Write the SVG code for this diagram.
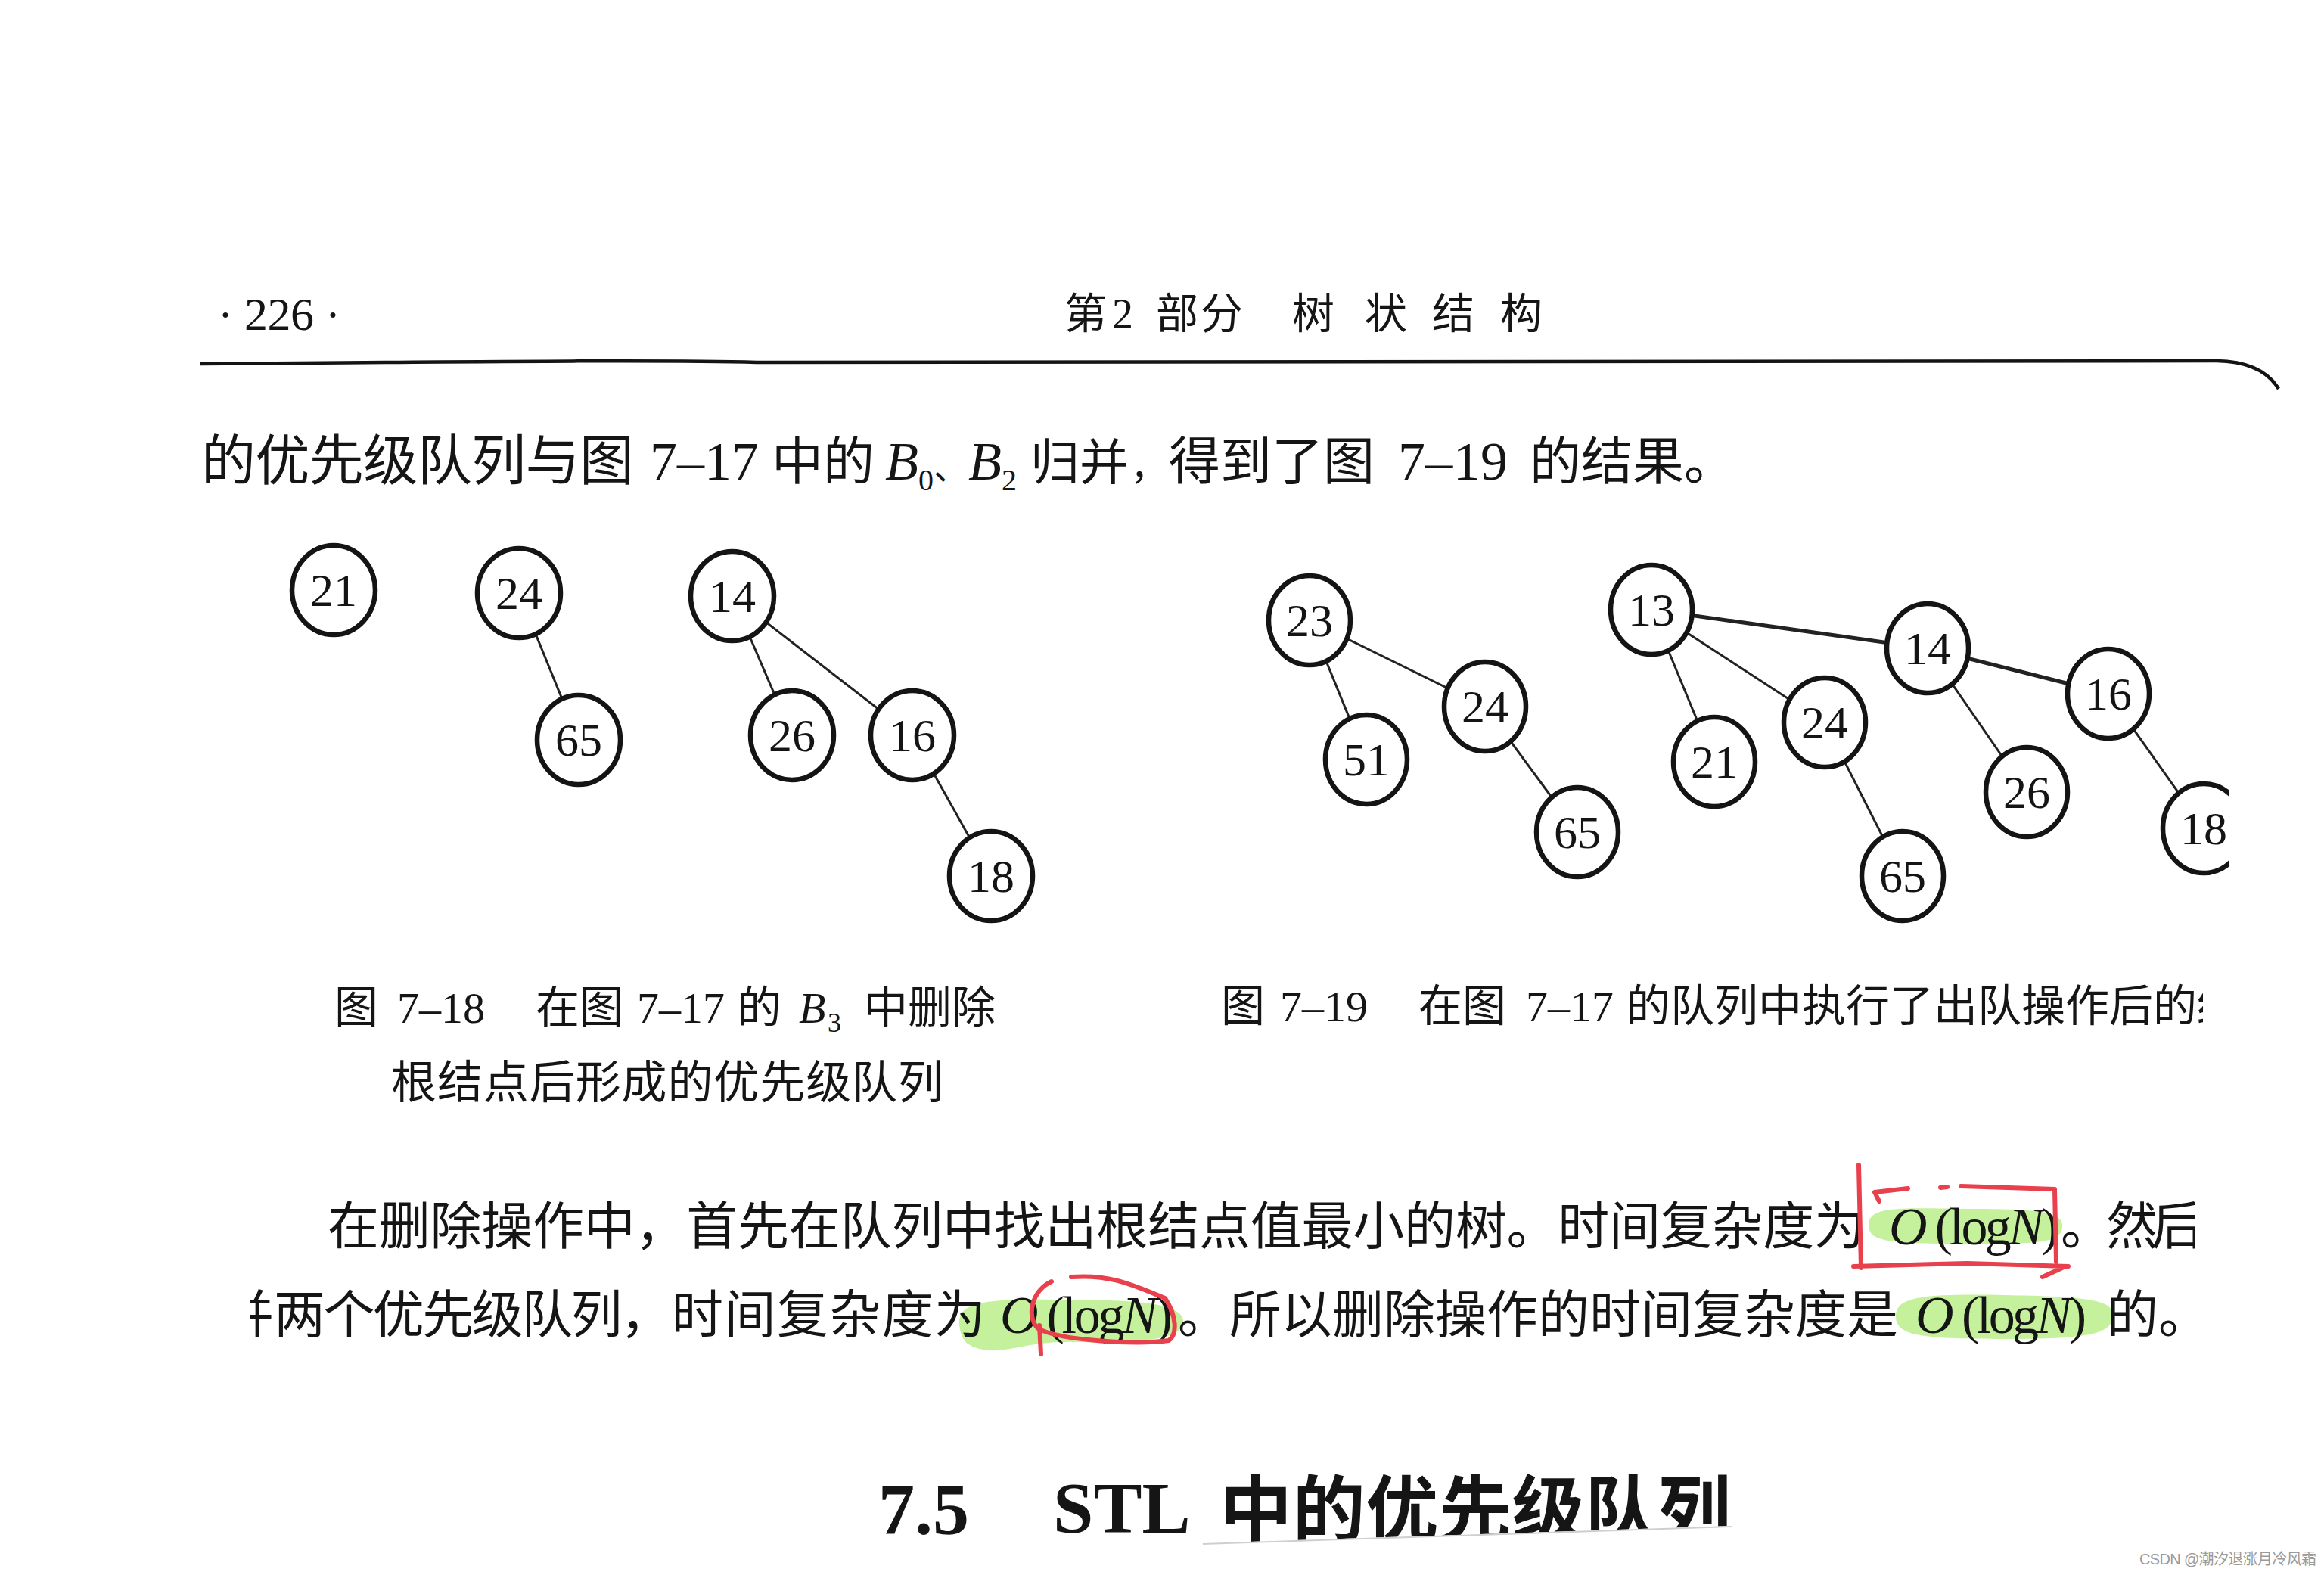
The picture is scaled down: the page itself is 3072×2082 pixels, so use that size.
<svg xmlns="http://www.w3.org/2000/svg" width="3072" height="2082" viewBox="0 0 3072 2082">
<style>
.cjk{font-family:"Noto Sans CJK SC","Noto Sans",sans-serif;fill:#151515}
.ser{font-family:"Liberation Serif","Noto Sans CJK SC",serif;fill:#151515}
.it{font-style:italic}
.node ellipse{fill:#fff;stroke:#141414;stroke-width:6.5}
.node text{font-family:"Liberation Serif",serif;font-size:62px;text-anchor:middle;fill:#141414}
.edge{stroke:#222;stroke-width:3;fill:none}
.thick{stroke-width:5}
.hl{fill:#9fe85a;opacity:0.6}
.red{fill:none;stroke:#e8404c;stroke-width:6;stroke-linecap:round;stroke-linejoin:round}
</style>
<defs>
<clipPath id="clipR"><rect x="0" y="0" width="2946" height="2082"/></clipPath>
<clipPath id="clipCap"><rect x="0" y="0" width="2912" height="2082"/></clipPath>
<clipPath id="clipL1"><rect x="0" y="0" width="2902" height="2082"/></clipPath>
<clipPath id="clipL2"><rect x="330" y="0" width="2742" height="2082"/></clipPath>
<clipPath id="clipHead"><polygon points="0,0 3072,0 3072,2016 2290,2017 1590,2040 0,2040"/></clipPath>
</defs>
<rect x="0" y="0" width="3072" height="2082" fill="#fff"/>

<!-- page header -->
<g id="header">
<text class="ser" x="288" y="436" font-size="60">·</text>
<text class="ser" x="323" y="436" font-size="62" textLength="92">226</text>
<text class="ser" x="430" y="436" font-size="60">·</text>
<text class="cjk" x="1407" y="434" font-size="56">第</text>
<text class="ser" x="1470" y="434" font-size="56">2</text>
<text class="cjk" x="1528" y="434" font-size="56" textLength="115">部分</text>
<text class="cjk" x="1708" y="434" font-size="56">树</text>
<text class="cjk" x="1804" y="434" font-size="56">状</text>
<text class="cjk" x="1893" y="434" font-size="56">结</text>
<text class="cjk" x="1983" y="434" font-size="56">构</text>
<path d="M264 481 C700 477 900 476 1000 479 C1500 478 2200 479 2930 477 Q2990 478 3012 514" fill="none" stroke="#141414" stroke-width="4.5"/>
</g>

<!-- intro line -->
<g id="intro">
<text class="cjk" x="266" y="634" font-size="72" textLength="572">的优先级队列与图</text>
<text class="ser" x="859" y="634" font-size="72">7–17</text>
<text class="cjk" x="1020" y="634" font-size="68" textLength="136">中的</text>
<text class="ser" x="1170" y="634" font-size="72"><tspan class="it">B</tspan><tspan font-size="40" dy="14">0</tspan><tspan font-size="46" dy="-14">、</tspan><tspan class="it">B</tspan><tspan font-size="40" dy="14">2</tspan></text>
<text class="cjk" x="1362" y="634" font-size="65" textLength="130">归并</text>
<text class="cjk" x="1494" y="634" font-size="50">，</text>
<text class="cjk" x="1545" y="634" font-size="68" textLength="272">得到了图</text>
<text class="ser" x="1848" y="634" font-size="72" textLength="145">7–19</text>
<text class="cjk" x="2022" y="634" font-size="68">的结果。</text>
</g>

<!-- connectors -->
<g id="connectors">
<line class="edge" x1="686" y1="784" x2="765" y2="978"/>
<line class="edge" x1="968" y1="788" x2="1047" y2="972"/>
<line class="edge" x1="968" y1="788" x2="1206" y2="972" stroke-width="3.5"/>
<line class="edge" x1="1206" y1="972" x2="1310" y2="1158"/>
<line class="edge" x1="1731" y1="820" x2="1806" y2="1004"/>
<line class="edge" x1="1731" y1="820" x2="1963" y2="934"/>
<line class="edge" x1="1963" y1="934" x2="2085" y2="1100"/>
<line class="edge" x1="2183" y1="806" x2="2266" y2="1007"/>
<line class="edge" x1="2183" y1="806" x2="2412" y2="955"/>
<line class="edge thick" x1="2183" y1="806" x2="2548" y2="857"/>
<line class="edge" x1="2412" y1="955" x2="2515" y2="1158"/>
<line class="edge" x1="2548" y1="857" x2="2679" y2="1047"/>
<line class="edge thick" x1="2548" y1="857" x2="2787" y2="917"/>
<line class="edge" x1="2787" y1="917" x2="2913" y2="1095"/>
</g>

<!-- figure 7-18 nodes -->
<g id="f18-21" class="node"><ellipse cx="441" cy="780" rx="55" ry="59"/><text x="441" y="801">21</text></g>
<g id="f18-24" class="node"><ellipse cx="686" cy="784" rx="55" ry="59"/><text x="686" y="805">24</text></g>
<g id="f18-65" class="node"><ellipse cx="765" cy="978" rx="55" ry="59"/><text x="765" y="999">65</text></g>
<g id="f18-14" class="node"><ellipse cx="968" cy="788" rx="55" ry="59"/><text x="968" y="809">14</text></g>
<g id="f18-26" class="node"><ellipse cx="1047" cy="972" rx="55" ry="59"/><text x="1047" y="993">26</text></g>
<g id="f18-16" class="node"><ellipse cx="1206" cy="972" rx="55" ry="59"/><text x="1206" y="993">16</text></g>
<g id="f18-18" class="node"><ellipse cx="1310" cy="1158" rx="55" ry="59"/><text x="1310" y="1179">18</text></g>

<!-- figure 7-19 nodes -->
<g id="f19-23" class="node"><ellipse cx="1731" cy="820" rx="54" ry="59"/><text x="1731" y="841">23</text></g>
<g id="f19-51" class="node"><ellipse cx="1806" cy="1004" rx="54" ry="59"/><text x="1806" y="1025">51</text></g>
<g id="f19-24a" class="node"><ellipse cx="1963" cy="934" rx="54" ry="59"/><text x="1963" y="955">24</text></g>
<g id="f19-65a" class="node"><ellipse cx="2085" cy="1100" rx="54" ry="59"/><text x="2085" y="1121">65</text></g>
<g id="f19-13" class="node"><ellipse cx="2183" cy="806" rx="54" ry="59"/><text x="2183" y="827">13</text></g>
<g id="f19-21" class="node"><ellipse cx="2266" cy="1007" rx="54" ry="59"/><text x="2266" y="1028">21</text></g>
<g id="f19-24b" class="node"><ellipse cx="2412" cy="955" rx="54" ry="59"/><text x="2412" y="976">24</text></g>
<g id="f19-65b" class="node"><ellipse cx="2515" cy="1158" rx="54" ry="59"/><text x="2515" y="1179">65</text></g>
<g id="f19-14" class="node"><ellipse cx="2548" cy="857" rx="54" ry="59"/><text x="2548" y="878">14</text></g>
<g id="f19-26" class="node"><ellipse cx="2679" cy="1047" rx="54" ry="59"/><text x="2679" y="1068">26</text></g>
<g id="f19-16" class="node"><ellipse cx="2787" cy="917" rx="54" ry="59"/><text x="2787" y="938">16</text></g>
<g id="f19-18" class="node" clip-path="url(#clipR)"><ellipse cx="2913" cy="1095" rx="54" ry="59"/><text x="2913" y="1116">18</text></g>

<!-- captions -->
<g id="caption-7-18">
<text class="cjk" x="442" y="1352" font-size="58">图</text>
<text class="ser" x="525" y="1352" font-size="58">7–18</text>
<text class="cjk" x="708" y="1352" font-size="58" textLength="116">在图</text>
<text class="ser" x="842" y="1352" font-size="58">7–17</text>
<text class="cjk" x="975" y="1352" font-size="58">的</text>
<text class="ser it" x="1056" y="1352" font-size="58">B</text>
<text class="ser" x="1094" y="1364" font-size="36">3</text>
<text class="cjk" x="1142" y="1352" font-size="58" textLength="174">中删除</text>
<text class="cjk" x="517" y="1452" font-size="60" textLength="730">根结点后形成的优先级队列</text>
</g>
<g id="caption-7-19" clip-path="url(#clipCap)">
<text class="cjk" x="1614" y="1350" font-size="58">图</text>
<text class="ser" x="1692" y="1350" font-size="58">7–19</text>
<text class="cjk" x="1875" y="1350" font-size="58" textLength="116">在图</text>
<text class="ser" x="2017" y="1350" font-size="58">7–17</text>
<text class="cjk" x="2150" y="1350" font-size="58" textLength="812">的队列中执行了出队操作后的结</text>
</g>

<!-- highlights -->
<g id="highlights">
<path class="hl" d="M2470 1620 C2470 1596 2500 1596 2600 1598 C2700 1598 2728 1602 2726 1622 C2724 1642 2700 1645 2600 1644 C2500 1644 2470 1642 2470 1620 Z"/>
<path class="hl" d="M1268 1750 C1266 1722 1300 1716 1400 1718 C1500 1718 1566 1722 1564 1748 C1562 1772 1500 1776 1420 1774 C1360 1772 1330 1790 1300 1784 C1276 1780 1270 1770 1268 1750 Z"/>
<path class="hl" d="M2506 1740 C2506 1714 2540 1710 2650 1712 C2760 1714 2795 1718 2793 1740 C2791 1764 2760 1770 2650 1770 C2540 1770 2506 1766 2506 1740 Z"/>
</g>

<!-- body text -->
<g id="body-line1" clip-path="url(#clipL1)">
<text class="cjk" x="433" y="1645" font-size="68" textLength="2033">在删除操作中，首先在队列中找出根结点值最小的树。时间复杂度为</text>
<text class="ser" x="2497" y="1645" font-size="70" textLength="224"><tspan class="it">O</tspan> (log<tspan class="it">N</tspan>)</text>
<text class="cjk" x="2724" y="1645" font-size="68" textLength="188">。然后</text>
</g>
<g id="body-line2" clip-path="url(#clipL2)">
<text class="cjk" x="294" y="1762" font-size="68">并</text>
<text class="cjk" x="362" y="1762" font-size="68" textLength="526">两个优先级队列，</text>
<text class="cjk" x="888" y="1762" font-size="68" textLength="415">时间复杂度为</text>
<text class="ser" x="1322" y="1762" font-size="70" textLength="228"><tspan class="it">O</tspan> (log<tspan class="it">N</tspan>)</text>
<text class="cjk" x="1557" y="1762" font-size="68" textLength="952">。所以删除操作的时间复杂度是</text>
<text class="ser" x="2532" y="1762" font-size="70" textLength="226"><tspan class="it">O</tspan> (log<tspan class="it">N</tspan>)</text>
<text class="cjk" x="2785" y="1762" font-size="68" textLength="136">的。</text>
</g>

<!-- red pen marks -->
<g id="pen-marks">
<path class="red" d="M2457 1540 L2460 1676"/>
<path class="red" d="M2484 1588 L2478 1576 L2522 1571 M2565 1570 L2574 1569 M2592 1568 L2716 1572 L2718 1668"/>
<path class="red" d="M2450 1674 L2600 1670 L2734 1674 M2700 1688 L2726 1676"/>
<path class="red" stroke-width="5" d="M1416 1688 C1470 1684 1500 1700 1540 1716 C1556 1740 1556 1764 1545 1772 C1500 1778 1400 1772 1372 1756 C1356 1740 1364 1706 1390 1694"/>
<path class="red" stroke="#a0524a" stroke-width="3" d="M1374 1752 L1376 1790"/>
</g>

<!-- section heading -->
<g id="heading" clip-path="url(#clipHead)">
<text class="ser" x="1161" y="2028" font-size="96" font-weight="bold">7.5</text>
<text class="ser" x="1392" y="2026" font-size="96" font-weight="bold">STL</text>
<text class="cjk" x="1612" y="2030" font-size="96" font-weight="bold" textLength="676">中的优先级队列</text>
</g>
<path d="M1590 2041 L2290 2018" stroke="#cfcfcf" stroke-width="2" fill="none"/>

<text x="2828" y="2068" font-family="Liberation Sans, Noto Sans CJK SC, sans-serif" font-size="20" fill="#9a9a9a" textLength="234">CSDN @潮汐退涨月冷风霜</text>
</svg>
